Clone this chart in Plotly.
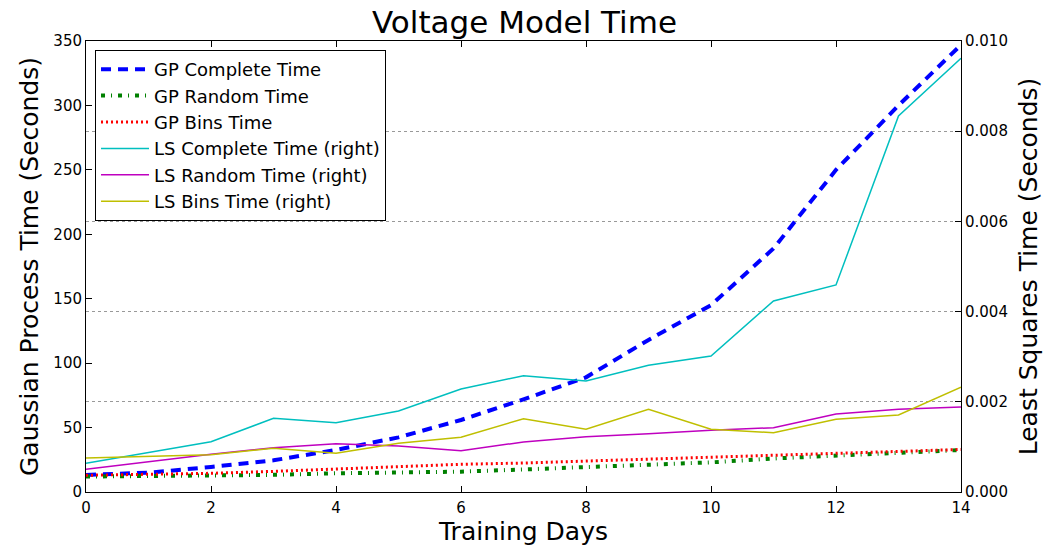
import plotly.graph_objects as go

days = list(range(15))

gp_complete = [13.2, 15.0, 19.4, 24.6, 32.6, 42.4, 55.9, 71.9, 89.0, 118, 145, 189, 250, 300, 347]
gp_random = [12.0, 12.2, 12.4, 13.3, 14.5, 15.0, 15.8, 17.5, 19.2, 21.0, 23.0, 26.0, 28.0, 30.5, 32.6]
gp_bins = [13.0, 13.5, 14.5, 16.0, 18.0, 20.0, 21.5, 22.5, 24.0, 25.0, 26.5, 28.0, 29.5, 31.5, 33.0]

ls_complete = [0.000636, 0.00088, 0.001115, 0.001634, 0.001537, 0.001796, 0.002284, 0.002579,
               0.002461, 0.002809, 0.003016, 0.004235, 0.00459, 0.008337, 0.009616]
ls_random = [0.000503, 0.00067, 0.000836, 0.000982, 0.001071, 0.00102, 0.000916, 0.001109,
             0.001226, 0.001293, 0.001368, 0.001426, 0.00173, 0.001834, 0.001885]
ls_bins = [0.000754, 0.00079, 0.000827, 0.000969, 0.000858, 0.00108, 0.001213, 0.001625,
           0.00139, 0.001834, 0.00139, 0.001315, 0.001612, 0.001707, 0.002322]

x_ticks = [0, 2, 4, 6, 8, 10, 12, 14]
left_ticks = [0, 50, 100, 150, 200, 250, 300, 350]
right_ticks = [0.000, 0.002, 0.004, 0.006, 0.008, 0.010]

FONT = "DejaVu Sans"

fig = go.Figure()

gp_series = [
    ("GP Complete Time", gp_complete, "#0000FF", 4, "10px,7px"),
    ("GP Random Time", gp_random, "#008000", 4, "4px,6px,1px,6px"),
    ("GP Bins Time", gp_bins, "#FF0000", 3, "2px,3px"),
]
for i, (name, vals, col, w, dash) in enumerate(gp_series):
    fig.add_trace(go.Scatter(x=days, y=vals, name=name, mode="lines",
                             line=dict(color=col, width=w, dash=dash),
                             legendgroup=f"g{i}", yaxis="y"))

ls_series = [
    ("LS Complete Time (right)", ls_complete, "#00BFBF"),
    ("LS Random Time (right)", ls_random, "#BF00BF"),
    ("LS Bins Time (right)", ls_bins, "#BFBF00"),
]
for i, (name, vals, col) in enumerate(ls_series):
    fig.add_trace(go.Scatter(x=days, y=vals, name=name, mode="lines",
                             line=dict(color=col, width=1.5),
                             legendgroup=f"l{i}", yaxis="y2"))

fig.update_layout(
    width=1049, height=548,
    margin=dict(l=86, r=88, t=41, b=56),
    paper_bgcolor="white", plot_bgcolor="white",
    font=dict(family=FONT, color="black", size=15),
    title=dict(text="Voltage Model Time", x=0.5, xanchor="center",
               y=0.96, yanchor="middle", yref="container",
               font=dict(family=FONT, size=31, color="black")),
    xaxis=dict(range=[0, 14], tickvals=x_ticks, ticks="inside", ticklen=6,
               tickcolor="black", showline=True, linecolor="black", linewidth=1,
               mirror="ticks", showgrid=False, zeroline=False, automargin=False,
               tickfont=dict(size=15), ticklabelstandoff=2,
               title=dict(text="Training Days", font=dict(size=25), standoff=6)),
    yaxis=dict(range=[0, 350], tickvals=left_ticks, ticks="inside", ticklen=6,
               tickcolor="black", showline=True, linecolor="black", linewidth=1,
               showgrid=False, zeroline=False, tickfont=dict(size=15), automargin=False,
               title=dict(text="Gaussian Process Time (Seconds)", font=dict(size=25), standoff=7)),
    yaxis2=dict(range=[0, 0.010], tickvals=right_ticks, tickformat=".3f",
                overlaying="y", side="right", ticks="inside", ticklen=6,
                tickcolor="black", showline=True, linecolor="black", linewidth=1,
                showgrid=True, gridcolor="#999999", griddash="dot", gridwidth=1,
                zeroline=False, tickfont=dict(size=15), automargin=False,
                title=dict(text="Least Squares Time (Seconds)", font=dict(size=25), standoff=12)),
    legend=dict(x=0.0103, y=0.98, xanchor="left", yanchor="top",
                bgcolor="white", bordercolor="black", borderwidth=1,
                font=dict(size=18), tracegroupgap=5, traceorder="normal",
                itemwidth=48),
    showlegend=True,
)

fig.write_html("out.html")
